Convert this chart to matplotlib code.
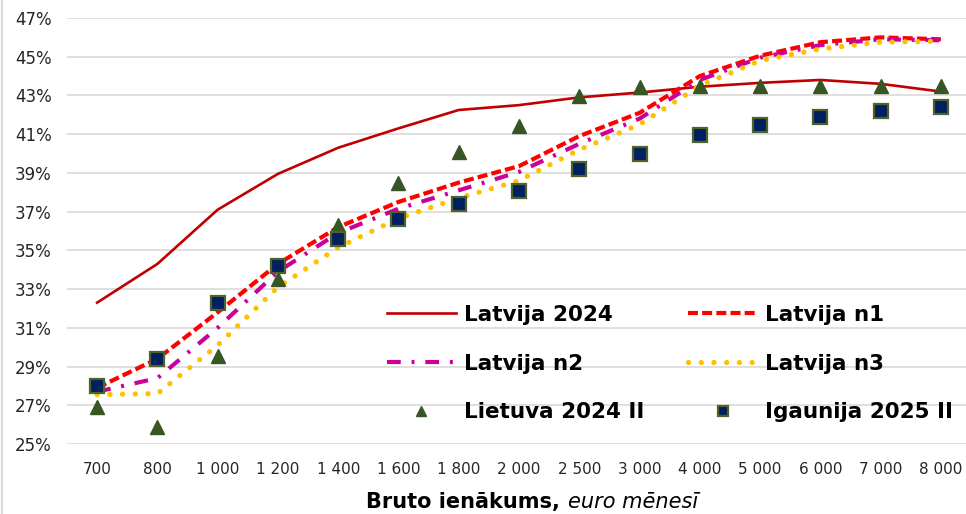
import matplotlib
matplotlib.use("Agg")
import matplotlib.pyplot as plt
from matplotlib.lines import Line2D
from matplotlib.ticker import FuncFormatter

# Bruto ienākums (euro mēnesī) - kategoriju ass
ienakumi = ["700", "800", "1 000", "1 200", "1 400", "1 600", "1 800", "2 000",
            "2 500", "3 000", "4 000", "5 000", "6 000", "7 000", "8 000"]

# Nodokļu slogs, %
latvija_2024 = [32.3, 34.3, 37.1, 38.95, 40.3, 41.3, 42.25, 42.5, 42.9, 43.15,
                43.45, 43.65, 43.8, 43.6, 43.2]
latvija_n1 = [27.9, 29.4, 31.8, 34.3, 36.2, 37.5, 38.5, 39.35, 40.9, 42.1,
              44.0, 45.05, 45.75, 46.0, 45.9]
latvija_n2 = [27.7, 28.4, 31.0, 33.9, 35.9, 37.15, 38.1, 39.05, 40.5, 41.8,
              43.8, 44.95, 45.6, 45.9, 45.85]
latvija_n3 = [27.55, 27.6, 30.1, 33.1, 35.15, 36.65, 37.7, 38.6, 40.2, 41.5,
              43.5, 44.8, 45.4, 45.75, 45.8]
lietuva_2024 = [26.9, 25.9, 29.55, 33.5, 36.3, 38.5, 40.1, 41.4, 42.95, 43.45,
                43.5, 43.5, 43.5, 43.5, 43.5]
igaunija_2025 = [28.0, 29.4, 32.3, 34.2, 35.6, 36.6, 37.4, 38.05, 39.2, 40.0,
                 40.95, 41.5, 41.9, 42.2, 42.4]

x = list(range(len(ienakumi)))
pct = lambda v: [a / 100 for a in v]

fig = plt.figure(figsize=(9.66, 5.14), dpi=100)
ax = fig.add_axes([67 / 966, 70 / 514, 904 / 966, 426 / 514])

h1, = ax.plot(x, pct(latvija_2024), color="#C00000", lw=1.9, label="Latvija 2024", zorder=3)
h2, = ax.plot(x, pct(latvija_n1), color="#FF0000", lw=3, dashes=(2.4, 1.0),
              label="Latvija n1", zorder=3)
h3, = ax.plot(x, pct(latvija_n2), color="#CC0099", lw=3, dashes=(3.3, 2.6, 0.7, 2.6),
              label="Latvija n2", zorder=3)
h4, = ax.plot(x, pct(latvija_n3), color="#FFC000", lw=3.8, dashes=(0.01, 2.4),
              dash_capstyle="round", label="Latvija n3", zorder=3)
h5, = ax.plot(x, pct(lietuva_2024), ls="none", marker="^", ms=10, color="#375623",
              label="Lietuva 2024 II", zorder=4)
h6, = ax.plot(x, pct(igaunija_2025), ls="none", marker="s", ms=10, mfc="#002060",
              mec="#4F6228", mew=1.6, label="Igaunija 2025 II", zorder=5)

ax.set_xlim(-0.5, len(ienakumi) - 0.5)
ax.set_ylim(0.25, 0.47)
ax.set_yticks([0.25 + 0.02 * i for i in range(12)])
ax.yaxis.set_major_formatter(FuncFormatter(lambda v, p: f"{v * 100:.0f}%"))
ax.set_xticks(x)
ax.set_xticklabels(ienakumi, fontsize=11, color="#262626")
ax.tick_params(axis="x", length=0, pad=13)
ax.tick_params(axis="y", length=0, pad=11, labelsize=12, labelcolor="#262626")
for s in ax.spines.values():
    s.set_visible(False)
ax.grid(axis="y", color="#D9D9D9", lw=1.2)
ax.set_axisbelow(True)

# legenda pa rindām (matplotlib aizpilda pa kolonnām)
handles = [h1, h3, h5, h2, h4, h6]
leg = ax.legend(handles=handles, labels=[h.get_label() for h in handles], ncol=2,
                loc="upper left", bbox_to_anchor=(387 / 966, 1 - 305 / 514),
                bbox_transform=fig.transFigure, frameon=False, borderpad=0,
                borderaxespad=0, handlelength=3.2, handletextpad=0.37,
                columnspacing=2.05, labelspacing=1.33, markerscale=0.75,
                prop={"weight": "bold", "size": 15.5})

fig.text(560 / 966, 1 - 508 / 514, "Bruto ienākums,", ha="right", va="baseline",
         fontsize=15, fontweight="bold")
fig.text(568 / 966, 1 - 508 / 514, "euro mēnesī", ha="left", va="baseline",
         fontsize=15, style="italic")

fig.add_artist(Line2D([1.5 / 966, 1.5 / 966], [0, 1], color="#D9D9D9", lw=1.5,
                      transform=fig.transFigure))

fig.savefig("out.png", dpi=100)
